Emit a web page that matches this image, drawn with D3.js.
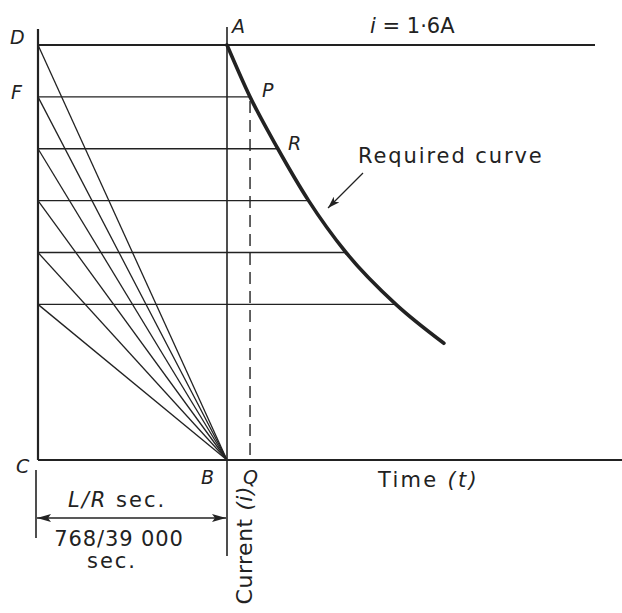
<!DOCTYPE html>
<html>
<head>
<meta charset="utf-8">
<script src="https://cdn.jsdelivr.net/npm/d3@7"></script>
<style>
  html, body { margin: 0; padding: 0; background: #fff; }
  svg text { font-family: "DejaVu Sans", sans-serif; fill: #222; }
</style>
</head>
<body>
<svg id="chart" width="622" height="613"></svg>
<script>
// ---------- data ----------
const timeConstantMs = 768 / 39000 * 1000;          // L/R in ms
const currentLevels = [1.6, 1.4, 1.2, 1.0, 0.8, 0.6]; // construction levels (A)
const curveTime = [0, 2.4, 5.3, 8.5, 12.4, 17.6, 22.6];      // ms
const curveCurrent = [1.6, 1.4, 1.2, 1.0, 0.8, 0.6, 0.45];   // A
const dashedTime = 2.4;   // point Q (below P)
const pointLabels = ["D", "F", "A", "P", "R", "C", "B", "Q"];

// ---------- scales ----------
const svg = d3.select("#chart");
const x = d3.scaleLinear().domain([-timeConstantMs, 0]).range([38, 227]);
const y = d3.scaleLinear().domain([0, 1.6]).range([460, 45]);
const ink = "#222";

const g = svg.append("g");

// defs for arrowheads
const defs = svg.append("defs");
defs.append("marker").attr("id", "ahEnd").attr("viewBox", "0 0 14 8")
  .attr("refX", 14).attr("refY", 4).attr("markerWidth", 14).attr("markerHeight", 8)
  .attr("markerUnits", "userSpaceOnUse").attr("orient", "auto")
  .append("path").attr("d", "M0,0 L14,4 L0,8 L3,4 Z").attr("fill", ink);
defs.append("marker").attr("id", "ahStart").attr("viewBox", "0 0 14 8")
  .attr("refX", 0).attr("refY", 4).attr("markerWidth", 14).attr("markerHeight", 8)
  .attr("markerUnits", "userSpaceOnUse").attr("orient", "auto")
  .append("path").attr("d", "M14,0 L0,4 L14,8 L11,4 Z").attr("fill", ink);
defs.append("marker").attr("id", "ahSmall").attr("viewBox", "0 0 12 8")
  .attr("refX", 12).attr("refY", 4).attr("markerWidth", 12).attr("markerHeight", 8)
  .attr("markerUnits", "userSpaceOnUse").attr("orient", "auto")
  .append("path").attr("d", "M0,0 L12,4 L0,8 L3,4 Z").attr("fill", ink);

// horizontal construction lines (from D-axis to curve)
currentLevels.forEach((lv, i) => {
  const idx = curveCurrent.indexOf(lv);
  const xEnd = i === 0 ? 595 : x(curveTime[idx]);
  g.append("line")
    .attr("x1", x(-timeConstantMs)).attr("x2", xEnd)
    .attr("y1", y(lv)).attr("y2", y(lv))
    .attr("stroke", ink).attr("stroke-width", i === 0 ? 2.2 : 1.4);
});

// diagonals from each level on D-axis to B
currentLevels.forEach(lv => {
  g.append("line")
    .attr("x1", x(-timeConstantMs)).attr("y1", y(lv))
    .attr("x2", x(0)).attr("y2", y(0))
    .attr("stroke", ink).attr("stroke-width", 1.3);
});

// left vertical axis D–C
g.append("line").attr("x1", x(-timeConstantMs)).attr("x2", x(-timeConstantMs))
  .attr("y1", 29).attr("y2", y(0)).attr("stroke", ink).attr("stroke-width", 2.2);
// vertical A–B (current axis)
g.append("line").attr("x1", x(0)).attr("x2", x(0))
  .attr("y1", 27).attr("y2", 556).attr("stroke", ink).attr("stroke-width", 1.6);
// time axis C–B–...
g.append("line").attr("x1", x(-timeConstantMs)).attr("x2", 622)
  .attr("y1", y(0)).attr("y2", y(0)).attr("stroke", ink).attr("stroke-width", 2.2);

// dashed P–Q line
g.append("line").attr("x1", x(dashedTime)).attr("x2", x(dashedTime))
  .attr("y1", y(1.4) + 4).attr("y2", y(0))
  .attr("stroke", ink).attr("stroke-width", 1.4).attr("stroke-dasharray", "12,7");

// required curve
const curveData = curveTime.map((t, i) => [t, curveCurrent[i]]);
g.append("path").datum(curveData)
  .attr("d", d3.line().x(d => x(d[0])).y(d => y(d[1])).curve(d3.curveMonotoneX))
  .attr("fill", "none").attr("stroke", ink).attr("stroke-width", 3.6)
  .attr("stroke-linecap", "round");

// L/R dimension
g.append("line").attr("x1", x(-timeConstantMs) - 2).attr("x2", x(-timeConstantMs) - 2)
  .attr("y1", 470).attr("y2", 538).attr("stroke", ink).attr("stroke-width", 1.6);
g.append("line").attr("x1", x(-timeConstantMs) - 1).attr("x2", x(0) - 1)
  .attr("y1", 518).attr("y2", 518).attr("stroke", ink).attr("stroke-width", 1.4)
  .attr("marker-start", "url(#ahStart)").attr("marker-end", "url(#ahEnd)");

// arrow from "Required curve" label
g.append("line").attr("x1", 363).attr("y1", 173).attr("x2", 328).attr("y2", 208)
  .attr("stroke", ink).attr("stroke-width", 1.3).attr("marker-end", "url(#ahSmall)");

// ---------- text ----------
const italicLabel = (txt, px, py) => g.append("text").attr("x", px).attr("y", py)
  .attr("font-size", 19).attr("font-style", "italic").text(txt);
const labelPos = {
  D: [10, 44], F: [11, 99], A: [232, 33], P: [262, 97], R: [288, 150],
  C: [16, 473], B: [201, 484], Q: [243, 484]
};
pointLabels.forEach(l => italicLabel(l, labelPos[l][0], labelPos[l][1]));

const t1 = g.append("text").attr("x", 370).attr("y", 33).attr("font-size", 21);
t1.append("tspan").attr("font-style", "italic").text("i");
t1.append("tspan").text(" = 1·6A");

g.append("text").attr("x", 358).attr("y", 163).attr("font-size", 21)
  .attr("letter-spacing", 1.9).text("Required curve");
const tt = g.append("text").attr("x", 378).attr("y", 487).attr("font-size", 21)
  .attr("letter-spacing", 2.3);
tt.append("tspan").text("Time ");
tt.append("tspan").attr("font-style", "italic").text("(t)");

const lr = g.append("text").attr("x", 68).attr("y", 507).attr("font-size", 21)
  .attr("letter-spacing", 2);
lr.append("tspan").attr("font-style", "italic").text("L/R");
lr.append("tspan").text(" sec.");
g.append("text").attr("x", 119).attr("y", 546).attr("font-size", 21)
  .attr("letter-spacing", 0.9).attr("text-anchor", "middle").text("768/39 000");
g.append("text").attr("x", 112).attr("y", 568).attr("font-size", 21)
  .attr("letter-spacing", 2).attr("text-anchor", "middle").text("sec.");

const cur = g.append("text").attr("transform", "translate(252,486) rotate(-90)")
  .attr("font-size", 22).attr("letter-spacing", 0.5).attr("text-anchor", "end");
cur.append("tspan").text("Current ");
cur.append("tspan").attr("font-style", "italic").text("(i)");
</script>
</body>
</html>
